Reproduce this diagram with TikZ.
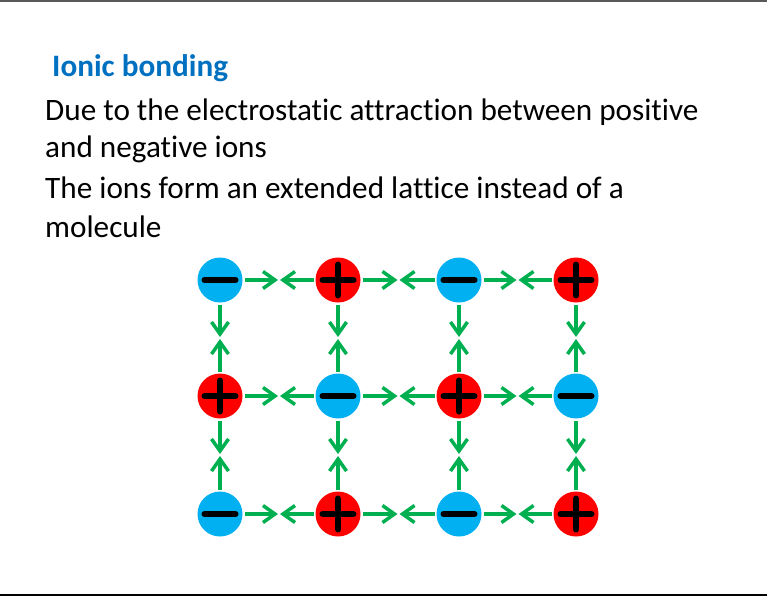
\documentclass[tikz,border=0pt]{standalone}
\usepackage{fontspec}
\setmainfont[Ligatures=NoCommon]{Carlito}
\usetikzlibrary{arrows.meta,positioning,calc}
\definecolor{bondgreen}{HTML}{00B050}
\definecolor{anionblue}{HTML}{00B0F0}
\definecolor{cationred}{HTML}{FF0000}
\definecolor{titleblue}{HTML}{0070C0}

\begin{document}
\begin{tikzpicture}[x=1pt,y=-1pt,
txt/.style={anchor=base west,inner sep=0pt,font=\fontsize{31.2}{37}\selectfont},
ion/.style={circle,minimum size=45pt,inner sep=0pt,outer sep=2pt},
sign/.style={line width=6pt,line cap=round},
anion/.style={ion,fill=anionblue,path picture={
  \draw[sign] ([xshift=-15.5pt]path picture bounding box.center) -- ([xshift=15.5pt]path picture bounding box.center);}},
cation/.style={ion,fill=cationred,path picture={
  \draw[sign] ([xshift=-15.5pt]path picture bounding box.center) -- ([xshift=15.5pt]path picture bounding box.center);
  \draw[sign] ([yshift=-15.5pt]path picture bounding box.center) -- ([yshift=15.5pt]path picture bounding box.center);}},
bond/.style={draw=bondgreen,line width=3.5pt,-{Straight Barb[length=12pt,width=17pt]},shorten >=1pt}
]
\useasboundingbox (0,0) rectangle (767,598);
\draw[line width=2pt,gray!70!black] (0,1) -- (767,1);
\draw[line width=2pt] (0,595) -- (767,595);

% text
\node[txt,font=\fontsize{31.2}{37}\selectfont\bfseries,text=titleblue] (title) at (52,76) {Ionic bonding};
\node[txt] (line1) at (45,120) {Due to the electrostatic attraction between positive};
\node[txt] (line2) at (45,157) {and negative ions};
\node[txt] (line3) at (45,198) {The ions form an extended lattice instead of a};
\node[txt] (line4) at (45,237) {molecule};

% lattice
\foreach \r/\y in {1/280,2/396,3/514}{
  \foreach \c/\x in {1/220,2/338,3/459,4/576}{
    \pgfmathparse{int(mod(\r+\c,2))}
    \ifnum\pgfmathresult=0
      \node[anion] (n\r\c) at (\x,\y) {};
    \else
      \node[cation] (n\r\c) at (\x,\y) {};
    \fi
  }
}

% bonds
\foreach \r in {1,2,3}{
  \foreach \c [evaluate=\c as \d using int(\c+1)] in {1,2,3}{
    \coordinate (m) at ($(n\r\c)!0.5!(n\r\d)$);
    \draw[bond] (n\r\c) -- (m);
    \draw[bond] (n\r\d) -- (m);
  }
}
\foreach \c in {1,2,3,4}{
  \foreach \r [evaluate=\r as \s using int(\r+1)] in {1,2}{
    \coordinate (m) at ($(n\r\c)!0.5!(n\s\c)$);
    \draw[bond] (n\r\c) -- (m);
    \draw[bond] (n\s\c) -- (m);
  }
}
\end{tikzpicture}
\end{document}
